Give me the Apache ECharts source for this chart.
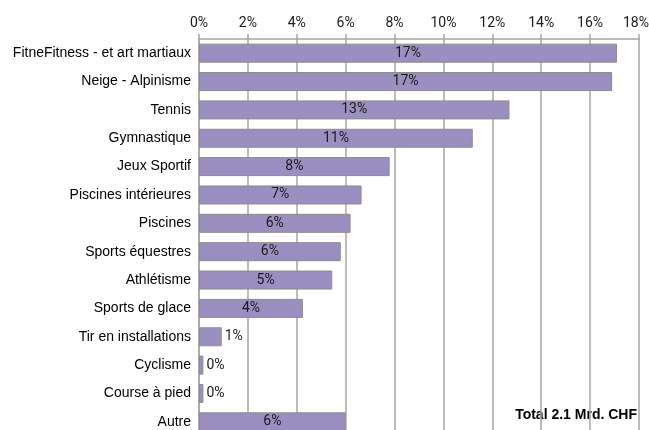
<!DOCTYPE html>
<html>
<head>
<meta charset="utf-8">
<script src="https://cdn.jsdelivr.net/npm/echarts@6/dist/echarts.min.js"></script>
<style>
  html, body { margin: 0; padding: 0; background: #fff; }
  #chart { width: 649px; height: 430px; }
</style>
</head>
<body>
<div id="chart"></div>
<script>
// Share of spending by sports facility type (percent)
const categories = [
  'FitneFitness - et art martiaux',
  'Neige - Alpinisme',
  'Tennis',
  'Gymnastique',
  'Jeux Sportif',
  'Piscines intérieures',
  'Piscines',
  'Sports équestres',
  'Athlétisme',
  'Sports de glace',
  'Tir en installations',
  'Cyclisme',
  'Course à pied',
  'Autre'
];
const shares = [17.1, 16.9, 12.7, 11.2, 7.8, 6.65, 6.2, 5.8, 5.45, 4.25, 0.93, 0.18, 0.18, 6.0];
const axisTicks = [0, 2, 4, 6, 8, 10, 12, 14, 16, 18];
const totalNote = 'Total 2.1 Mrd. CHF';

const numFont = 'Roboto, sans-serif';
const textFont = '"Liberation Sans", Arial, sans-serif';
const gridColor = '#a6a6a6';
const axisMax = axisTicks[axisTicks.length - 1];

// Short bars carry their label outside, to the right
const barData = shares.map(v => ({
  value: v,
  label: v < 2 ? { position: 'right', distance: 3 } : { position: 'inside' }
}));

const chart = echarts.init(document.getElementById('chart'), null, { renderer: 'canvas' });
chart.setOption({
  animation: false,
  grid: { left: 199, right: 10, top: 39, bottom: -6, containLabel: false, outerBoundsMode: 'none' },
  xAxis: {
    type: 'value',
    position: 'top',
    min: axisTicks[0],
    max: axisMax,
    interval: axisTicks[1] - axisTicks[0],
    axisLine: { show: true, lineStyle: { color: gridColor, width: 1.5 } },
    axisTick: { show: true, length: 5, lineStyle: { color: gridColor, width: 1.5 } },
    splitLine: { show: true, lineStyle: { color: gridColor, width: 1.5 } },
    axisLabel: {
      // keep the last label inside the canvas edge
      formatter: v => v === axisMax ? '{edge|' + v + '%}' : v + '%',
      rich: { edge: { padding: [0, 6, 0, 0], fontFamily: numFont, fontSize: 14, color: '#1a1a1a' } },
      color: '#1a1a1a',
      fontFamily: numFont,
      fontSize: 14,
      margin: 9
    }
  },
  yAxis: {
    type: 'category',
    inverse: true,
    data: categories,
    axisLine: { show: true, lineStyle: { color: gridColor, width: 1.5 } },
    axisTick: { show: false },
    axisLabel: {
      color: '#000',
      fontFamily: textFont,
      fontSize: 14,
      margin: 8
    }
  },
  series: [{
    type: 'bar',
    data: barData,
    barCategoryGap: '33%',
    itemStyle: { color: '#9b8fc2', borderColor: '#8c8c8c', borderWidth: 1 },
    label: {
      show: true,
      color: '#1a1a1a',
      fontFamily: numFont,
      fontSize: 14,
      formatter: p => Math.round(p.value) + '%'
    }
  }],
  graphic: [{
    type: 'text',
    right: 12,
    top: 408,
    z: -1,
    style: {
      text: totalNote,
      fill: '#000',
      font: 'bold 14px "Liberation Sans", Arial, sans-serif'
    }
  }]
});
</script>
</body>
</html>
